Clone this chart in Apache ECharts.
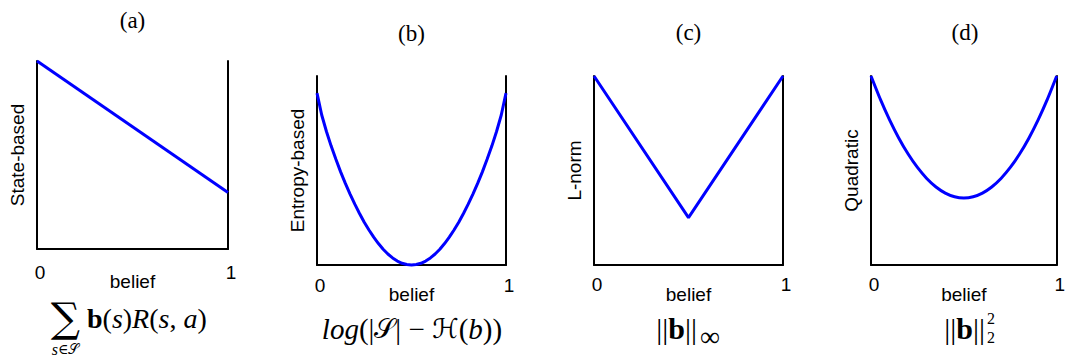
<!DOCTYPE html>
<html>
<head>
<meta charset="utf-8">
<script src="https://cdn.jsdelivr.net/npm/echarts@6/dist/echarts.min.js"></script>
<style>
html,body{margin:0;padding:0;background:#fff;}
#chart{width:1068px;height:363px;}
</style>
</head>
<body>
<div id="chart"></div>
<script>
// ---------- data ----------
const panelTitles = ['(a)', '(b)', '(c)', '(d)'];
const yAxisNames = ['State-based', 'Entropy-based', 'L-norm', 'Quadratic'];
const xAxisName = 'belief';
const xTickLabels = ['0', '1'];

const beliefA = [0, 1];
const stateBased = [1.0, 0.3];

const beliefB = [0, 0.025, 0.05, 0.075, 0.1, 0.125, 0.15, 0.175, 0.2, 0.225, 0.25, 0.275, 0.3, 0.325, 0.35, 0.375, 0.4, 0.425, 0.45, 0.475, 0.5,
                 0.525, 0.55, 0.575, 0.6, 0.625, 0.65, 0.675, 0.7, 0.725, 0.75, 0.775, 0.8, 0.825, 0.85, 0.875, 0.9, 0.925, 0.95, 0.975, 1];
const entropyBased = [1.000, 0.873, 0.777, 0.692, 0.615, 0.542, 0.475, 0.413, 0.354, 0.300, 0.249, 0.204, 0.162, 0.125, 0.092, 0.064, 0.041, 0.023, 0.010, 0.003, 0.000,
                      0.003, 0.010, 0.023, 0.041, 0.064, 0.092, 0.125, 0.162, 0.204, 0.249, 0.300, 0.354, 0.413, 0.475, 0.542, 0.615, 0.692, 0.777, 0.873, 1.000];

const beliefC = [0, 0.5, 1];
const lNorm = [1.0, 0.5, 1.0];

const beliefD = [0, 0.05, 0.1, 0.15, 0.2, 0.25, 0.3, 0.35, 0.4, 0.45, 0.5, 0.55, 0.6, 0.65, 0.7, 0.75, 0.8, 0.85, 0.9, 0.95, 1];
const quadratic = [1.000, 0.905, 0.820, 0.745, 0.680, 0.625, 0.580, 0.545, 0.520, 0.505, 0.500, 0.505, 0.520, 0.545, 0.580, 0.625, 0.680, 0.745, 0.820, 0.905, 1.000];

const yRanges = [[0, 1], [0, 1.1], [0.333, 1], [0.225, 1]];

// ---------- layout ----------
const grids = [
  {left: 37, top: 61, width: 191, height: 188},
  {left: 317, top: 76, width: 189, height: 189},
  {left: 594, top: 76, width: 189, height: 189},
  {left: 871, top: 76, width: 188, height: 189}
];
const labelMargins = [14, 11, 10, 10];
const nameGaps = [23, 20, 20, 20];
const titleY = [20.5, 33.5, 32.5, 32.5];

const SANS = 'Liberation Sans, Arial, Helvetica, sans-serif';
const SERIF = 'Liberation Serif, Times New Roman, DejaVu Serif, serif';
const MATHFB = 'Liberation Serif, DejaVu Serif, DejaVu Sans, serif';

const seriesData = [
  beliefA.map((b, i) => [b, stateBased[i]]),
  beliefB.map((b, i) => [b, entropyBased[i]]),
  beliefC.map((b, i) => [b, lNorm[i]]),
  beliefD.map((b, i) => [b, quadratic[i]])
];

const axisLineStyle = {show: true, onZero: false, lineStyle: {color: '#000', width: 2}};

const xAxes = grids.map((g, i) => ({
  gridIndex: i, type: 'value', min: 0, max: 1, interval: 1,
  axisLine: axisLineStyle, axisTick: {show: false}, splitLine: {show: false},
  axisLabel: {
    show: true, margin: labelMargins[i], color: '#000', fontFamily: SANS, fontSize: 19,
    padding: [0, 0, 0, 6],
    formatter: v => xTickLabels[Math.round(v)]
  },
  name: xAxisName, nameLocation: 'middle', nameGap: nameGaps[i], nameMoveOverlap: false,
  nameTextStyle: {color: '#000', fontFamily: SANS, fontSize: 19}
}));

const yAxes = [];
grids.forEach((g, i) => {
  yAxes.push({
    gridIndex: i, type: 'value', position: 'left', min: yRanges[i][0], max: yRanges[i][1],
    axisLine: axisLineStyle, axisTick: {show: false}, axisLabel: {show: false}, splitLine: {show: false},
    name: yAxisNames[i], nameLocation: 'middle', nameGap: 10, nameRotate: 90, nameMoveOverlap: false,
    nameTextStyle: {color: '#000', fontFamily: SANS, fontSize: 19}
  });
  yAxes.push({
    gridIndex: i, type: 'value', position: 'right', min: yRanges[i][0], max: yRanges[i][1],
    axisLine: axisLineStyle, axisTick: {show: false}, axisLabel: {show: false}, splitLine: {show: false}
  });
});

const series = seriesData.map((d, i) => ({
  type: 'line', xAxisIndex: i, yAxisIndex: 2 * i, data: d,
  showSymbol: false, symbol: 'none', clip: false, smooth: i === 3 ? 0.2 : false,
  lineStyle: {color: '#0000ff', width: 3}, silent: true, animation: false
}));

function txt(text, x, y, opts) {
  return {type: 'text', silent: true, style: Object.assign({
    text: text, x: x, y: y, fill: '#000',
    align: 'center', verticalAlign: 'middle',
    textAlign: 'center', textVerticalAlign: 'middle',
    fontFamily: SERIF, fontSize: 20
  }, opts || {})};
}

const graphics = [];
panelTitles.forEach((t, i) => {
  graphics.push(txt(t, grids[i].left + grids[i].width / 2, titleY[i], {fontSize: 23}));
});

// (a) formula
graphics.push(txt('\u2211', 65.5, 318, {fontSize: 41, fontFamily: 'DejaVu Serif, serif'}));
graphics.push(txt('', 65.5, 349, {
  text: '{it|s}{rm|\u2208}{cal|\uD835\uDCAE}',
  rich: {
    it: {fontFamily: SERIF, fontStyle: 'italic', fontSize: 16, fill: '#000'},
    rm: {fontFamily: MATHFB, fontSize: 14, fill: '#000'},
    cal: {fontFamily: MATHFB, fontSize: 14, fill: '#000'}
  }
}));
graphics.push(txt('', 87, 318.5, {
  text: '{bf|b}{rm|(}{it|s}{rm|)}{it|R}{rm|(}{it|s}{rm|, }{it|a}{rm|)}',
  align: 'left', textAlign: 'left',
  rich: {
    bf: {fontFamily: SERIF, fontWeight: 'bold', fontSize: 28, fill: '#000'},
    rm: {fontFamily: SERIF, fontSize: 28, fill: '#000'},
    it: {fontFamily: SERIF, fontStyle: 'italic', fontSize: 28, fill: '#000'}
  }
}));

// (b) formula
graphics.push(txt('', 412, 329, {
  text: '{it|log}{rm|(|}{cal|\uD835\uDCAE}{rm|| \u2212 }{cal|\u210B}{rm|(}{it|b}{rm|))}',
  rich: {
    rm: {fontFamily: SERIF, fontSize: 29, fill: '#000'},
    it: {fontFamily: SERIF, fontStyle: 'italic', fontSize: 29, fill: '#000'},
    cal: {fontFamily: MATHFB, fontSize: 27, fill: '#000'}
  }
}));

// (c) formula
graphics.push(txt('', 697, 328, {
  text: '{rm|||}{bf|b}{rm|||}',
  align: 'right', textAlign: 'right',
  rich: {
    rm: {fontFamily: SERIF, fontSize: 30, fill: '#000'},
    bf: {fontFamily: SERIF, fontWeight: 'bold', fontSize: 30, fill: '#000'}
  }
}));
graphics.push(txt('\u221E', 700, 336, {align: 'left', textAlign: 'left', fontSize: 28}));

// (d) formula
graphics.push(txt('', 985, 328, {
  text: '{rm|||}{bf|b}{rm|||}',
  align: 'right', textAlign: 'right',
  rich: {
    rm: {fontFamily: SERIF, fontSize: 30, fill: '#000'},
    bf: {fontFamily: SERIF, fontWeight: 'bold', fontSize: 30, fill: '#000'}
  }
}));
graphics.push(txt('2', 987, 318, {align: 'left', textAlign: 'left', fontSize: 16}));
graphics.push(txt('2', 987, 337, {align: 'left', textAlign: 'left', fontSize: 16}));

const chart = echarts.init(document.getElementById('chart'), null, {renderer: 'svg'});
chart.setOption({
  animation: false,
  backgroundColor: '#fff',
  grid: grids.map(g => Object.assign({containLabel: false}, g)),
  xAxis: xAxes,
  yAxis: yAxes,
  series: series,
  graphic: {elements: graphics}
});
</script>
</body>
</html>
